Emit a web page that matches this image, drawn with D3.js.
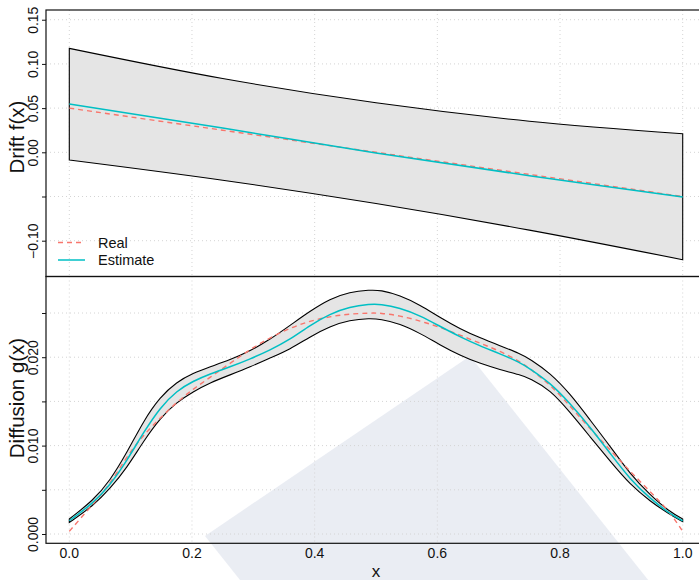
<!DOCTYPE html>
<html>
<head>
<meta charset="utf-8">
<script src="https://cdn.jsdelivr.net/npm/d3@7/dist/d3.min.js"></script>
<style>
  html, body { margin: 0; padding: 0; background: #fff; }
  svg { display: block; font-family: "Liberation Sans", Arial, Helvetica, sans-serif; }
</style>
</head>
<body>
<svg id="chart" width="699" height="580"></svg>
<script>
// ---- Drift panel data ----
const driftX        = [0, 0.25, 0.5, 0.75, 1];
const driftReal     = [0.05, 0.025, 0.0, -0.025, -0.05];
const driftEstimate = [0.0546, 0.0275, -0.0008, -0.0265, -0.0505];
const driftUpper    = [0.1176, 0.0835, 0.056, 0.0352, 0.021];
const driftLower    = [-0.0087, -0.0316, -0.058, -0.088, -0.1215];

// ---- Diffusion panel data ----
const diffX = [0.000, 0.039, 0.066, 0.094, 0.121, 0.148, 0.175, 0.202, 0.229, 0.262,
               0.295, 0.327, 0.360, 0.392, 0.425, 0.457, 0.490, 0.507, 0.539, 0.572,
               0.604, 0.637, 0.669, 0.702, 0.735, 0.751, 0.784, 0.816, 0.849, 0.882,
               0.914, 0.947, 0.979, 1.000];
const diffReal = [0.0003, 0.0034, 0.0056, 0.0088, 0.0112, 0.0131, 0.0149, 0.0164, 0.0177, 0.0193,
                  0.0209, 0.0222, 0.0233, 0.0241, 0.0246, 0.0249, 0.0250, 0.0250, 0.0247, 0.0241,
                  0.0234, 0.0225, 0.0216, 0.0207, 0.0195, 0.0187, 0.0169, 0.0145, 0.0119, 0.0095,
                  0.0071, 0.0048, 0.0025, 0.0003];
const diffEstimate = [0.0015, 0.0035, 0.0055, 0.0083, 0.0115, 0.0143, 0.0162, 0.0173, 0.0181, 0.0189,
                      0.0198, 0.0208, 0.0220, 0.0236, 0.0249, 0.0257, 0.0260, 0.0260, 0.0256, 0.0247,
                      0.0235, 0.0223, 0.0213, 0.0204, 0.0194, 0.0187, 0.0171, 0.0148, 0.0121, 0.0091,
                      0.0062, 0.0040, 0.0023, 0.0015];
const diffUpper = [0.0017, 0.0038, 0.0060, 0.0092, 0.0128, 0.0155, 0.0172, 0.0182, 0.0189, 0.0197,
                   0.0207, 0.0220, 0.0236, 0.0252, 0.0266, 0.0274, 0.0276, 0.0276, 0.0270, 0.0259,
                   0.0245, 0.0232, 0.0222, 0.0213, 0.0204, 0.0198, 0.0182, 0.0159, 0.0129, 0.0099,
                   0.0068, 0.0044, 0.0025, 0.0017];
const diffLower = [0.0013, 0.0032, 0.0051, 0.0075, 0.0105, 0.0131, 0.0149, 0.0161, 0.0171, 0.0180,
                   0.0189, 0.0199, 0.0209, 0.0223, 0.0235, 0.0242, 0.0244, 0.0243, 0.0238, 0.0227,
                   0.0214, 0.0202, 0.0193, 0.0186, 0.0180, 0.0176, 0.0163, 0.0138, 0.0110, 0.0082,
                   0.0056, 0.0037, 0.0022, 0.0014];

// ---- Axis ticks and labels ----
const xTicks = [0, 0.2, 0.4, 0.6, 0.8, 1.0];
const xTickLabels = ["0.0", "0.2", "0.4", "0.6", "0.8", "1.0"];
const driftTicks = [-0.10, -0.05, 0.00, 0.05, 0.10, 0.15];
const driftTickLabels = ["\u22120.10", "", "0.00", "0.05", "0.10", "0.15"];
const diffTicks = [0.000, 0.005, 0.010, 0.015, 0.020, 0.025];
const diffTickLabels = ["0.000", "", "0.010", "", "0.020", ""];
const legendLabels = ["Real", "Estimate"];

const COL_REAL = "#F8766D";
const COL_EST = "#00BFC4";
const COL_BAND = "#e5e5e5";
const COL_GRID = "#d4d4d4";

const svg = d3.select("#chart");

// shared horizontal layout
const boxLeft = 46, boxRight = 706;
const x = d3.scaleLinear().domain([0, 1]).range([69.3, 682.7]);

// panels
const panels = [
  {
    top: 10, bottom: 276.5,
    y: d3.scaleLinear().domain([-0.1405, 0.161]).range([276.5, 10]),
    xs: driftX, real: driftReal, est: driftEstimate, up: driftUpper, lo: driftLower,
    ticks: driftTicks, tickLabels: driftTickLabels,
    title: "Drift f(x)", titleY: 137, curve: d3.curveCatmullRom.alpha(0.5)
  },
  {
    top: 276.5, bottom: 543.3,
    y: d3.scaleLinear().domain([-0.001052, 0.02913]).range([543.3, 276.5]),
    xs: diffX, real: diffReal, est: diffEstimate, up: diffUpper, lo: diffLower,
    ticks: diffTicks, tickLabels: diffTickLabels,
    title: "Diffusion g(x)", titleY: 398, curve: d3.curveBasis
  }
];

// faint watermark shape sitting behind the plot content
svg.append("polygon")
  .attr("points", "470,356 719,669 454,849 205,536")
  .attr("fill", "#d9deea")
  .attr("opacity", 0.55);

panels.forEach((p, i) => {
  const g = svg.append("g");
  const clipId = "clip" + i;
  svg.append("clipPath").attr("id", clipId)
    .append("rect").attr("x", boxLeft).attr("y", p.top)
    .attr("width", boxRight - boxLeft).attr("height", p.bottom - p.top);

  // grid
  const grid = g.append("g").attr("clip-path", `url(#${clipId})`);
  grid.selectAll("line.v").data(xTicks).join("line")
    .attr("x1", d => x(d)).attr("x2", d => x(d))
    .attr("y1", p.top).attr("y2", p.bottom)
    .attr("stroke", COL_GRID).attr("stroke-width", 1).attr("stroke-dasharray", "1,3");
  grid.selectAll("line.h").data(p.ticks).join("line")
    .attr("x1", boxLeft).attr("x2", boxRight)
    .attr("y1", d => p.y(d)).attr("y2", d => p.y(d))
    .attr("stroke", COL_GRID).attr("stroke-width", 1).attr("stroke-dasharray", "1,3");

  const pts = (ys) => p.xs.map((xv, k) => [xv, ys[k]]);

  // confidence band
  const area = d3.area()
    .x(d => x(d.x)).y0(d => p.y(d.lo)).y1(d => p.y(d.up))
    .curve(p.curve);
  const bandData = p.xs.map((xv, k) => ({ x: xv, lo: p.lo[k], up: p.up[k] }));
  g.append("path").attr("d", area(bandData))
    .attr("fill", COL_BAND).attr("stroke", "#000").attr("stroke-width", 1.1);

  const line = d3.line().x(d => x(d[0])).y(d => p.y(d[1])).curve(p.curve);

  g.append("path").attr("d", line(pts(p.real)))
    .attr("fill", "none").attr("stroke", COL_REAL).attr("stroke-width", 1.4)
    .attr("stroke-dasharray", "5,4");
  g.append("path").attr("d", line(pts(p.est)))
    .attr("fill", "none").attr("stroke", COL_EST).attr("stroke-width", 1.5);

  // frame
  g.append("rect").attr("x", boxLeft).attr("y", p.top)
    .attr("width", boxRight - boxLeft).attr("height", p.bottom - p.top)
    .attr("fill", "none").attr("stroke", "#111").attr("stroke-width", 1.2);

  // y axis with labels parallel to the axis
  const axis = d3.axisLeft(p.y).tickValues(p.ticks)
    .tickFormat((d, k) => p.tickLabels[k]).tickSize(4).tickPadding(0);
  const ag = g.append("g").attr("transform", `translate(${boxLeft},0)`).call(axis);
  ag.select(".domain").remove();
  ag.selectAll(".tick line").attr("stroke", "#111");
  ag.selectAll(".tick text")
    .attr("transform", "rotate(-90)")
    .attr("x", 0).attr("y", -8).attr("dy", 0)
    .attr("text-anchor", "middle")
    .attr("fill", "#111")
    .style("font-size", "14px")
    .style("font-family", "'Liberation Sans', Arial, sans-serif");

  // axis title
  g.append("text")
    .attr("transform", `translate(24,${p.titleY}) rotate(-90)`)
    .attr("text-anchor", "middle")
    .attr("fill", "#111")
    .style("font-size", "20.5px")
    .text(p.title);
});

// x tick labels (bottom panel only)
svg.append("g").selectAll("text").data(xTicks).join("text")
  .attr("x", d => x(d)).attr("y", 558)
  .attr("text-anchor", "middle").attr("fill", "#111")
  .style("font-size", "14px")
  .text((d, k) => xTickLabels[k]);

svg.append("text")
  .attr("x", x(0.5)).attr("y", 577)
  .attr("text-anchor", "middle").attr("fill", "#111")
  .style("font-size", "17px")
  .text("x");

// legend
const legend = svg.append("g");
const legY = [242.5, 260];
legend.append("line").attr("x1", 58).attr("x2", 85).attr("y1", legY[0]).attr("y2", legY[0])
  .attr("stroke", COL_REAL).attr("stroke-width", 1.4).attr("stroke-dasharray", "5,4");
legend.append("line").attr("x1", 58).attr("x2", 85).attr("y1", legY[1]).attr("y2", legY[1])
  .attr("stroke", COL_EST).attr("stroke-width", 1.5);
legend.selectAll("text").data(legendLabels).join("text")
  .attr("x", 98).attr("y", (d, k) => legY[k] + 5)
  .attr("fill", "#111").style("font-size", "14.5px")
  .text(d => d);
</script>
</body>
</html>
